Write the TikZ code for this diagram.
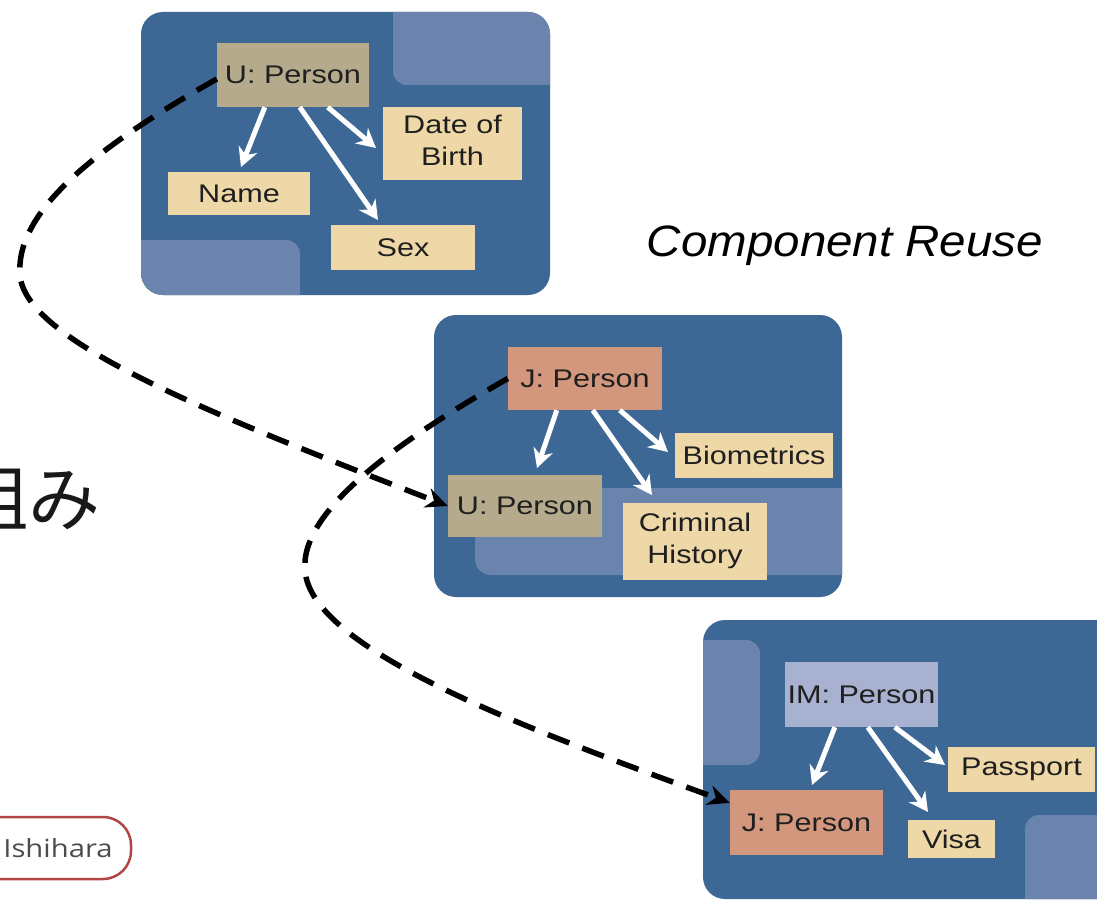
\documentclass[tikz,border=0pt]{standalone}
\usepackage{fontspec}
\setmainfont{Liberation Sans}
\newfontfamily\jpfont{Noto Sans CJK JP}
\newfontfamily\ishfont{Open Sans}
\usetikzlibrary{arrows.meta,calc}
\definecolor{panelblue}{HTML}{3D6794}
\definecolor{overlayblue}{HTML}{6B84AE}
\definecolor{tancol}{HTML}{B5AB8C}
\definecolor{creamcol}{HTML}{EFD8A8}
\definecolor{salmoncol}{HTML}{D3977D}
\definecolor{lavcol}{HTML}{A8B1CF}
\definecolor{ishred}{HTML}{B34545}
\newcommand{\sx}[1]{\scalebox{1.2}[1]{#1}}
\newcommand{\twoline}[2]{\sx{\begin{tabular}{@{}c@{}}#1\\#2\end{tabular}}}
\tikzset{
  box/.style={draw=none, inner sep=0pt, text=black!88, font=\fontsize{25.5}{32}\selectfont},
  tanbox/.style={box, fill=tancol},
  creambox/.style={box, fill=creamcol},
  salmonbox/.style={box, fill=salmoncol},
  lavbox/.style={box, fill=lavcol},
  warrow/.style={draw=white, line width=5pt, -{Stealth[length=19pt,width=20pt]}},
  reuse/.style={draw=black, line width=5.5pt, dash pattern=on 23pt off 14pt, -{Stealth[length=22pt,width=20pt]}},
  overlay/.style={fill=overlayblue, rounded corners=14pt},
  panel/.style={fill=panelblue, rounded corners=22pt}
}
\begin{document}
\begin{tikzpicture}[x=1pt,y=-1pt]
\useasboundingbox (0,0) rectangle (1097,901);
\clip (0,0) rectangle (1097,901);
\fill[white] (0,0) rectangle (1097,901);

% left partial texts
\node[anchor=base east, inner sep=0pt, font=\jpfont\fontsize{72}{72}\selectfont, text=black!90] (jp) at (101,525) {組み};
\draw[draw=ishred, line width=2.5pt, fill=white, rounded corners=28pt] (-80,817) rectangle (131,879);
\node[inner sep=0pt, font=\ishfont\fontsize{25}{30}\selectfont, text=black!70] (ish) at (58,848) {\scalebox{1.17}[1]{Ishihara}};

% caption
\node[anchor=base, inner sep=0pt, font=\itshape\fontsize{44}{50}\selectfont] (cap) at (845,257) {\scalebox{1.08}[1]{Component Reuse}};

% panel 1
\fill[panel] (141,12) rectangle (550,295);
\begin{scope}
  \clip[rounded corners=22pt] (141,12) rectangle (550,295);
  \fill[overlay] (393,-20) rectangle (600,85);
  \fill[overlay] (100,240) rectangle (300,340);
\end{scope}
% panel 2
\fill[panel] (434,315) rectangle (842,597);
\begin{scope}
  \clip[rounded corners=22pt] (434,315) rectangle (842,597);
  \fill[overlay, rounded corners=16pt] (475,488) rectangle (900,575);
\end{scope}
% panel 3
\fill[panel] (703,620) rectangle (1150,899);
\begin{scope}
  \clip[rounded corners=22pt] (703,620) rectangle (1150,899);
  \fill[overlay] (660,640) rectangle (760,765);
  \fill[overlay] (1025,815) rectangle (1200,950);
\end{scope}

% panel 1 nodes
\node[tanbox, minimum width=152pt, minimum height=64pt] (u1) at (293,75) {\sx{U: Person}};
\node[creambox, minimum width=139pt, minimum height=73pt] (dob) at (452.5,143.5) {\twoline{Date of}{Birth}};
\node[creambox, minimum width=142pt, minimum height=43pt] (name) at (239,193.5) {\sx{Name}};
\node[creambox, minimum width=144pt, minimum height=45pt] (sex) at (403,247.5) {\sx{Sex}};
\coordinate (t11) at (241,167);
\coordinate (t12) at (378,220);
\coordinate (t13) at (376,148);
\draw[warrow] ($(u1.south west)+(48,0)$) -- (t11);
\draw[warrow] ($(u1.south west)+(83,0)$) -- (t12);
\draw[warrow] ($(u1.south west)+(111,0)$) -- (t13);

% panel 2 nodes
\node[salmonbox, minimum width=154pt, minimum height=63pt] (j1) at (585,378.5) {\sx{J: Person}};
\node[creambox, minimum width=158pt, minimum height=45pt] (bio) at (754,455.5) {\sx{Biometrics}};
\node[tanbox, minimum width=154pt, minimum height=62pt] (u2) at (525,506) {\sx{U: Person}};
\node[creambox, minimum width=144pt, minimum height=77pt] (crim) at (695,541.5) {\twoline{Criminal}{History}};
\coordinate (t21) at (537,468);
\coordinate (t22) at (652,495);
\coordinate (t23) at (668,452);
\draw[warrow] ($(j1.south west)+(49,0)$) -- (t21);
\draw[warrow] ($(j1.south west)+(85,0)$) -- (t22);
\draw[warrow] ($(j1.south west)+(112,0)$) -- (t23);

% panel 3 nodes
\node[lavbox, minimum width=153pt, minimum height=65pt] (im) at (861.5,694.5) {\sx{IM: Person}};
\node[creambox, minimum width=147pt, minimum height=45pt] (pass) at (1021.5,769.5) {\sx{Passport}};
\node[salmonbox, minimum width=153pt, minimum height=65pt] (j2) at (806.5,822.5) {\sx{J: Person}};
\node[creambox, minimum width=87pt, minimum height=38pt] (visa) at (951.5,839) {\sx{Visa}};
\coordinate (t31) at (812,785);
\coordinate (t32) at (928,812);
\coordinate (t33) at (945,765);
\draw[warrow] ($(im.south west)+(50,0)$) -- (t31);
\draw[warrow] ($(im.south west)+(83,0)$) -- (t32);
\draw[warrow] ($(im.south west)+(110,0)$) -- (t33);

% reuse connectors
\draw[reuse] ($(u1.west)+(0,4)$) .. controls (100,145) and (15,210) .. (20,275)
             .. controls (25,340) and (200,410) .. (u2.west);
\draw[reuse] (j1.west) .. controls (400,440) and (300,510) .. (305,570)
             .. controls (310,650) and (530,730) .. ($(j2.north west)!0.2!(j2.south west)$);
\end{tikzpicture}
\end{document}
